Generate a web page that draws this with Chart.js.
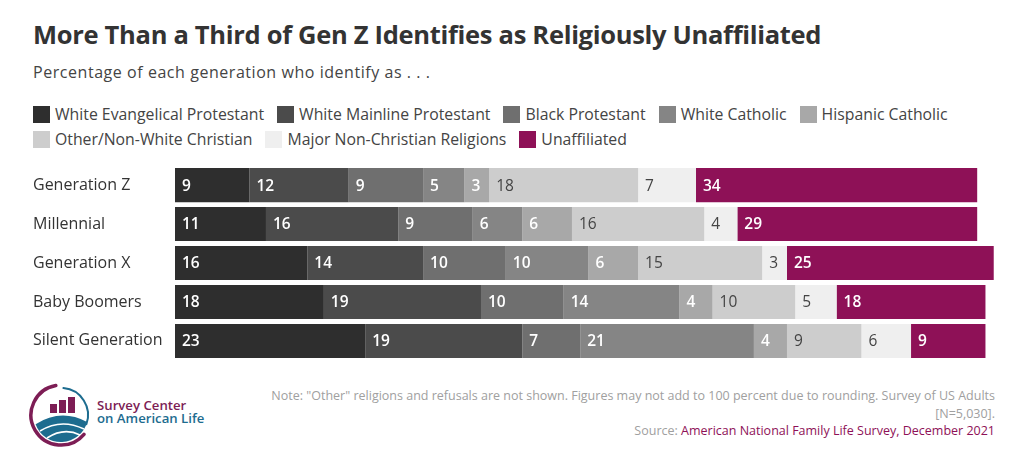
<!DOCTYPE html>
<html>
<head>
<meta charset="utf-8">
<script src="https://cdn.jsdelivr.net/npm/chart.js@4/dist/chart.umd.min.js"></script>
<style>
  html,body{margin:0;padding:0;background:#fff;}
  body{width:1019px;height:456px;position:relative;overflow:hidden;font-family:"Open Sans",sans-serif;color:#333;}
  #title{position:absolute;left:33px;top:17px;font-size:25.5px;font-weight:700;color:#333;letter-spacing:-0.3px;}
  #subtitle{position:absolute;left:33px;top:61px;font-size:16px;color:#444;letter-spacing:0.55px;}
  #legend{position:absolute;left:33px;top:102px;width:980px;font-size:15.8px;color:#444;line-height:25px;}
  .li{display:inline-block;margin-right:13px;white-space:nowrap;}
  .sw{display:inline-block;width:17px;height:17px;vertical-align:-3px;margin-right:5px;}
  #chartbox{position:absolute;left:0;top:156px;width:1019px;height:214px;}
  #note{position:absolute;right:24px;top:387px;width:790px;text-align:right;font-size:12.5px;color:#a0a0a0;line-height:17.5px;}
  #note .src{color:#8e1157;}
  #logo{position:absolute;left:28px;top:380px;}
</style>
</head>
<body>
<div id="title">More Than a Third of Gen Z Identifies as Religiously Unaffiliated</div>
<div id="subtitle">Percentage of each generation who identify as . . .</div>
<div id="legend"></div>
<div id="chartbox"><canvas id="c"></canvas></div>
<div id="note">Note: "Other" religions and refusals are not shown. Figures may not add to 100 percent due to rounding. Survey of US Adults<br>[N=5,030].<br>Source: <span class="src">American National Family Life Survey, December 2021</span></div>
<svg id="logo" width="190" height="72" viewBox="0 0 190 72">
  <path d="M 27.8 5.5 A 30 30 0 1 0 56 54.3" fill="none" stroke="#7d1d55" stroke-width="3.5" stroke-linecap="round"/>
  <path d="M 35.4 8.1 A 27 27 0 0 1 58.4 44.2" fill="none" stroke="#1d6c8f" stroke-width="2" stroke-linecap="round"/>
  <path d="M 7.6 44.2 Q 33 28 59.1 42 A 27 27 0 0 1 7.6 44.2 Z" fill="#1d6c8f"/>
  <path d="M 12 51 Q 33 38 56 49" fill="none" stroke="#fff" stroke-width="1.5"/>
  <path d="M 19 58 Q 36 47 52 55" fill="none" stroke="#fff" stroke-width="1.5"/>
  <rect x="22" y="24" width="7" height="9" fill="#7d1d55"/>
  <rect x="31" y="20" width="7" height="13" fill="#7d1d55"/>
  <rect x="40" y="17" width="7" height="16" fill="#7d1d55"/>
  <text x="69" y="30" font-family="Open Sans, sans-serif" font-size="13.2" font-weight="600" fill="#7d1d55">Survey Center</text>
  <text x="69" y="43" font-family="Open Sans, sans-serif" font-size="13.2" font-weight="600" fill="#1d6c8f">on American Life</text>
</svg>
<script>
const categories = ["Generation Z","Millennial","Generation X","Baby Boomers","Silent Generation"];
const seriesNames = ["White Evangelical Protestant","White Mainline Protestant","Black Protestant","White Catholic","Hispanic Catholic","Other/Non-White Christian","Major Non-Christian Religions","Unaffiliated"];
const whiteEvangelical = [9,11,16,18,23];
const whiteMainline = [12,16,14,19,19];
const blackProtestant = [9,9,10,10,7];
const whiteCatholic = [5,6,10,14,21];
const hispanicCatholic = [3,6,6,4,4];
const otherChristian = [18,16,15,10,9];
const nonChristian = [7,4,3,5,6];
const unaffiliated = [34,29,25,18,9];
const seriesValues = [whiteEvangelical,whiteMainline,blackProtestant,whiteCatholic,hispanicCatholic,otherChristian,nonChristian,unaffiliated];
const colors = ["#2e2e2e","#4b4b4b","#6f6f6f","#858585","#a8a8a8","#cdcdcd","#efefef","#8e1157"];
const labelColors = ["#fff","#fff","#fff","#fff","#fff","#444","#444","#fff"];
const labelWeights = ["600","600","600","600","600","400","400","600"];

const lg = document.getElementById('legend');
seriesNames.forEach((n,i)=>{
  const s=document.createElement('span');s.className='li';
  s.innerHTML='<span class="sw" style="background:'+colors[i]+'"></span>'+n;
  lg.appendChild(s);
  if(i===4) lg.appendChild(document.createElement('br'));
});

const valueLabels = {
  id:'valueLabels',
  afterDatasetsDraw(chart){
    const ctx=chart.ctx;
    chart.data.datasets.forEach((ds,di)=>{
      const meta=chart.getDatasetMeta(di);
      meta.data.forEach((bar,i)=>{
        const p=bar.getProps(['x','y','base'],true);
        ctx.save();
        ctx.font=labelWeights[di]+' 15.5px "Open Sans", sans-serif';
        ctx.fillStyle=labelColors[di];
        ctx.textAlign='left';ctx.textBaseline='middle';
        ctx.fillText(String(ds.data[i]),Math.min(p.x,p.base)+7,p.y+1);
        ctx.restore();
      });
    });
  }
};

new Chart(document.getElementById('c'),{
  type:'bar',
  data:{labels:categories,datasets:seriesNames.map((n,i)=>({label:n,data:seriesValues[i],backgroundColor:colors[i],borderWidth:0,barPercentage:1,categoryPercentage:0.875}))},
  options:{
    indexAxis:'y',responsive:true,maintainAspectRatio:false,animation:false,
    layout:{padding:{left:33,right:17,top:0,bottom:0}},
    plugins:{legend:{display:false},tooltip:{enabled:false}},
    scales:{
      x:{stacked:true,min:0,max:100,display:false},
      y:{stacked:true,grid:{display:false},border:{display:false},
         ticks:{crossAlign:'far',color:'#333',font:{size:16,family:'"Open Sans", sans-serif'},padding:0},
         afterFit(a){a.width=142;}}
    }
  },
  plugins:[valueLabels]
});
</script>
</body>
</html>
